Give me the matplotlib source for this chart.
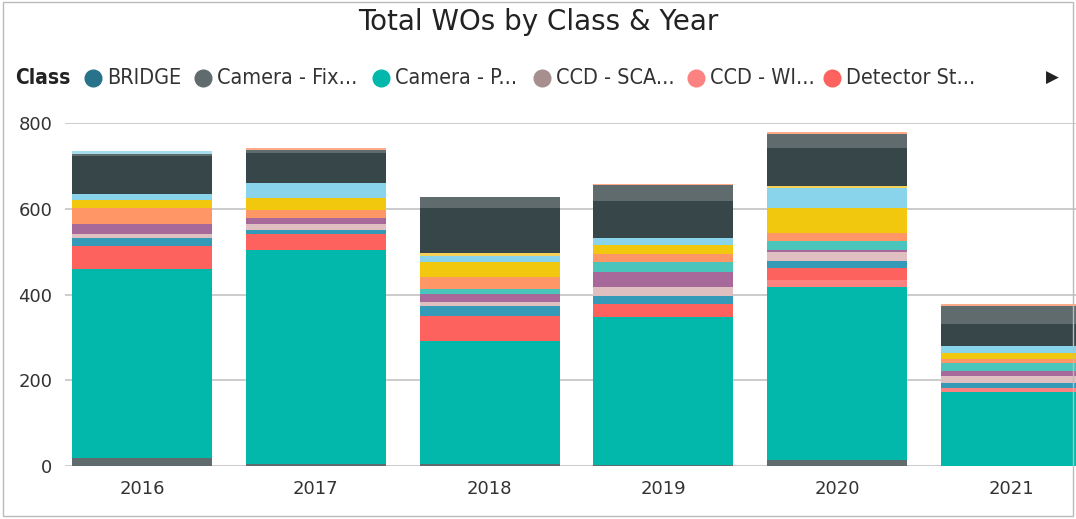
import matplotlib.pyplot as plt
from matplotlib.lines import Line2D
from matplotlib.patches import Rectangle
import numpy as np

# years on the x axis
years = ["2016", "2017", "2018", "2019", "2020", "2021"]

# classes, bottom of the stack first (legend order)
classes = ["BRIDGE", "Camera - Fixed", "Camera - PTZ", "CCD - SCADA", "CCD - WIM",
           "Detector Station", "DMS", "Fiber", "HAR", "ITS Cabinet", "Lighting",
           "Network", "Power", "Ramp Meter", "Signal", "TMC", "Tunnel", "VSL"]
colors = ["#28738A", "#5F6B6D", "#01B8AA", "#A78F8F", "#FB8281", "#FD625E",
          "#3599B8", "#DFBFBF", "#A66999", "#4AC5BB", "#FE9666", "#F2C80F",
          "#8AD4EB", "#F4D25A", "#374649", "#5F6B6D", "#A4DDEE", "#FDAB89"]

# work order counts per class, one value per year
bridge      = [0, 0, 0, 0, 0, 0]
cam_fixed   = [18, 5, 5, 2, 14, 0]
cam_ptz     = [441, 500, 287, 345, 403, 173]
ccd_scada   = [0, 0, 0, 0, 0, 0]
ccd_wim     = [0, 0, 0, 0, 18, 8]
detector    = [54, 35, 58, 32, 26, 0]
dms         = [18, 10, 24, 18, 18, 12]
fiber       = [9, 14, 9, 21, 21, 17]
har         = [24, 14, 18, 35, 4, 12]
cabinet     = [0, 0, 13, 24, 21, 19]
lighting    = [37, 19, 27, 17, 18, 8]
network     = [20, 29, 34, 21, 58, 15]
power       = [14, 33, 15, 16, 47, 16]
ramp        = [0, 0, 7, 0, 5, 1]
signal      = [89, 70, 104, 88, 88, 51]
tmc         = [4, 8, 26, 36, 33, 41]
tunnel      = [7, 0, 0, 0, 0, 0]
vsl         = [0, 4, 0, 3, 4, 4]

series = [bridge, cam_fixed, cam_ptz, ccd_scada, ccd_wim, detector, dms, fiber,
          har, cabinet, lighting, network, power, ramp, signal, tmc, tunnel, vsl]

fig = plt.figure(figsize=(10.76, 5.19), dpi=100)
ax = fig.add_axes([0.0604, 0.102, 0.9396, 0.661])

x = np.arange(len(years))
bottom = np.zeros(len(years))
for vals, c, name in zip(series, colors, classes):
    ax.bar(x, vals, 0.805, bottom=bottom, color=c, label=name, linewidth=0)
    bottom += np.array(vals)

ax.set_xlim(-0.443, 5.374)
ax.set_ylim(0, 800)
ax.set_yticks([0, 200, 400, 600, 800])
ax.set_xticks(x)
ax.set_xticklabels(years)
ax.tick_params(length=0, labelsize=13, colors="#333333")
ax.tick_params(axis="y", pad=9)
ax.tick_params(axis="x", pad=10)
ax.grid(axis="y", color="#CCCCCC", linewidth=1.4)
ax.set_axisbelow(True)
for s in ax.spines.values():
    s.set_visible(False)

fig.text(0.5, 0.957, "Total WOs by Class & Year", ha="center", va="center",
         fontsize=20, color="#222222")

# legend row, drawn by hand like the Power BI header
ly = 1 - 78 / 519
fig.text(15 / 1076, ly, "Class", ha="left", va="center", fontsize=15,
         fontweight="bold", color="#222222", fontstretch="condensed")
leg_names = ["BRIDGE", "Camera - Fix...", "Camera - P...", "CCD - SCA...",
             "CCD - WI...", "Detector St..."]
leg_x = [93, 203, 381, 542, 696, 832]
for name, px, c in zip(leg_names, leg_x, colors[:6]):
    fig.add_artist(Line2D([px / 1076], [ly], marker="o", markersize=12,
                          color=c, transform=fig.transFigure))
    fig.text((px + 14) / 1076, ly, name, ha="left", va="center",
             fontsize=15.5, color="#333333", fontstretch="condensed")
fig.text(1052 / 1076, ly, "\u25B6", ha="center", va="center", fontsize=12,
         color="#222222")

fig.add_artist(Rectangle((0.003, 0.006), 0.994, 0.99, fill=False,
                         edgecolor="#BBBBBB", linewidth=1,
                         transform=fig.transFigure))

fig.savefig("out.png", dpi=100)
